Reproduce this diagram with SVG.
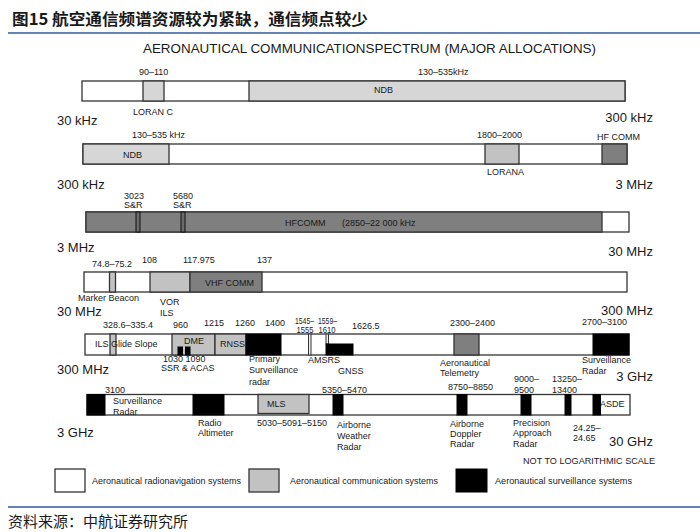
<svg xmlns="http://www.w3.org/2000/svg" width="700" height="532" viewBox="0 0 700 532">
<style>
text{font-family:"Liberation Sans",Arial,sans-serif;fill:#1a1a1a}
.s{font-size:9px}
.b{font-size:13px}
.r{text-anchor:end}
.bar{fill:#fff;stroke:#333;stroke-width:1.3}
.lg{fill:#d6d6d6;stroke:#333;stroke-width:1.3}
.mg{fill:#c2c2c2;stroke:#333;stroke-width:1.3}
.dg{fill:#7f7f7f;stroke:#333;stroke-width:1.3}
.bk{fill:#000;stroke:#000;stroke-width:1}
.cjk{font-family:"Noto Sans CJK SC",sans-serif}
</style>
<rect width="700" height="532" fill="#fff"/>
<g id="header">
<text class="cjk" x="12" y="25" font-size="16" font-weight="bold" textLength="356" lengthAdjust="spacingAndGlyphs">图15 航空通信频谱资源较为紧缺，通信频点较少</text>
<line x1="8" y1="33" x2="700" y2="33" stroke="#2e5c9e" stroke-width="1.6"/>
<text x="143" y="53" font-size="13" textLength="453" lengthAdjust="spacingAndGlyphs">AERONAUTICAL COMMUNICATIONSPECTRUM (MAJOR ALLOCATIONS)</text>
</g>
<g id="row1">
<rect class="bar" x="82" y="81" width="543" height="20"/>
<rect class="lg" x="143" y="81" width="21" height="20"/>
<rect class="lg" x="249" y="81" width="376" height="20"/>
<text class="s" x="139" y="75">90–110</text>
<text class="s" x="133" y="115">LORAN C</text>
<text class="s" x="374" y="93">NDB</text>
<text class="s" x="418" y="75">130–535kHz</text>
<text class="b" x="57" y="125">30 kHz</text>
<text class="b r" x="653" y="122">300 kHz</text>
</g>
<g id="row2">
<rect class="bar" x="83" y="144" width="544" height="20"/>
<rect class="lg" x="83" y="144" width="86" height="20"/>
<rect class="mg" x="485" y="144" width="34" height="20"/>
<rect class="dg" x="602" y="144" width="25" height="20"/>
<text class="s" x="132" y="138">130–535 kHz</text>
<text class="s" x="123" y="158">NDB</text>
<text class="s" x="477" y="138">1800–2000</text>
<text class="s" x="597" y="140">HF COMM</text>
<text class="s" x="487" y="175">LORANA</text>
<text class="b" x="57" y="189">300 kHz</text>
<text class="b r" x="653" y="189">3 MHz</text>
</g>
<g id="row3">
<rect class="bar" x="86" y="212" width="543" height="20"/>
<rect class="dg" x="86" y="212" width="516" height="20"/>
<rect x="136" y="212" width="4" height="20" fill="#6a6a6a" stroke="#111" stroke-width="1"/>
<rect x="181" y="212" width="4" height="20" fill="#6a6a6a" stroke="#111" stroke-width="1"/>
<text class="s" x="124" y="199">3023</text>
<text class="s" x="124" y="208">S&amp;R</text>
<text class="s" x="173" y="199">5680</text>
<text class="s" x="173" y="208">S&amp;R</text>
<text class="s" x="285" y="226">HFCOMM</text>
<text class="s" x="342" y="226">(2850–22 000 kHz</text>
<text class="b" x="57" y="252">3 MHz</text>
<text class="b r" x="653" y="256">30 MHz</text>
</g>
<g id="row4">
<rect class="bar" x="84" y="272" width="543" height="20"/>
<rect class="mg" x="109.5" y="272" width="6" height="20"/>
<rect class="mg" x="150" y="272" width="40" height="20"/>
<rect class="dg" x="190" y="272" width="72" height="20"/>
<text class="s" x="92" y="267">74.8–75.2</text>
<text class="s" x="142" y="263">108</text>
<text class="s" x="183" y="263">117.975</text>
<text class="s" x="257" y="263">137</text>
<text class="s" x="205" y="286">VHF COMM</text>
<text class="s" x="78" y="301">Marker Beacon</text>
<text class="s" x="160" y="305">VOR</text>
<text class="s" x="160" y="316">ILS</text>
<text class="b" x="57" y="316">30 MHz</text>
<text class="b r" x="653" y="315">300 MHz</text>
</g>
<g id="row5">
<rect class="bar" x="85" y="334" width="544" height="21"/>
<rect class="mg" x="110" y="334" width="6" height="21"/>
<rect class="mg" x="172" y="334" width="43" height="21"/>
<rect class="mg" x="215" y="334" width="31" height="21"/>
<rect class="bk" x="178" y="347" width="4.5" height="8"/>
<rect class="bk" x="185.5" y="347" width="4.5" height="8"/>
<rect class="bk" x="246" y="334" width="35" height="21"/>
<rect x="308.5" y="334" width="2.5" height="21" fill="#eee" stroke="#333" stroke-width="1"/>
<rect x="326" y="334" width="2.5" height="10" fill="#eee" stroke="#333" stroke-width="1"/>
<rect class="bk" x="326" y="344" width="27" height="11"/>
<rect class="dg" x="454" y="334" width="25" height="21"/>
<rect class="bk" x="593" y="334" width="36" height="21"/>
<text class="s" x="95" y="347">ILS Glide Slope</text>
<text class="s" x="184" y="344">DME</text>
<text class="s" x="220" y="347">RNSS</text>
<text class="s" x="103" y="328">328.6–335.4</text>
<text class="s" x="173" y="328">960</text>
<text class="s" x="204" y="326">1215</text>
<text class="s" x="235" y="326">1260</text>
<text class="s" x="265" y="326">1400</text>
<text class="s" x="295" y="324" textLength="19" lengthAdjust="spacingAndGlyphs">1545–</text>
<text class="s" x="296.5" y="333" textLength="17" lengthAdjust="spacingAndGlyphs">1555</text>
<text class="s" x="318" y="324" textLength="19" lengthAdjust="spacingAndGlyphs">1559–</text>
<text class="s" x="318.5" y="333" textLength="17" lengthAdjust="spacingAndGlyphs">1610</text>
<text class="s" x="352" y="329">1626.5</text>
<text class="s" x="450" y="326">2300–2400</text>
<text class="s" x="582" y="325">2700–3100</text>
<text class="s" x="163" y="362">1030 1090</text>
<text class="s" x="161" y="371">SSR &amp; ACAS</text>
<text class="s" x="249" y="362">Primary</text>
<text class="s" x="249" y="373">Surveillance</text>
<text class="s" x="249" y="385">radar</text>
<text class="s" x="308" y="363">AMSRS</text>
<text class="s" x="338" y="374">GNSS</text>
<text class="s" x="440" y="366">Aeronautical</text>
<text class="s" x="440" y="376">Telemetry</text>
<text class="s" x="582" y="363">Surveillance</text>
<text class="s" x="582" y="374">Radar</text>
<text class="b" x="57" y="374">300 MHz</text>
<text class="b r" x="653" y="381">3 GHz</text>
</g>
<g id="row6">
<rect class="bar" x="87" y="394.5" width="543" height="20.5"/>
<rect class="bk" x="87" y="394.5" width="18" height="20.5"/>
<rect class="bk" x="193" y="394.5" width="31" height="20.5"/>
<rect class="mg" x="258" y="394.5" width="51" height="19"/>
<rect class="bk" x="333" y="394.5" width="10" height="20.5"/>
<rect class="bk" x="457" y="394.5" width="10" height="20.5"/>
<rect class="bk" x="521" y="394.5" width="10" height="20.5"/>
<rect class="bk" x="565" y="394.5" width="6" height="20.5"/>
<rect class="bk" x="593" y="394.5" width="7.5" height="20.5"/>
<text class="s" x="113" y="404">Surveillance</text>
<text class="s" x="113" y="415">Radar</text>
<text class="s" x="267" y="407">MLS</text>
<text class="s" x="600" y="407">ASDE</text>
<text class="s" x="105" y="393">3100</text>
<text class="s" x="322" y="393">5350–5470</text>
<text class="s" x="448" y="390">8750–8850</text>
<text class="s" x="514" y="382">9000–</text>
<text class="s" x="514" y="393">9500</text>
<text class="s" x="552" y="382">13250–</text>
<text class="s" x="552" y="393">13400</text>
<text class="s" x="198" y="426">Radio</text>
<text class="s" x="198" y="436">Altimeter</text>
<text class="s" x="257" y="426">5030–5091–5150</text>
<text class="s" x="337" y="428">Airborne</text>
<text class="s" x="337" y="439">Weather</text>
<text class="s" x="337" y="450">Radar</text>
<text class="s" x="450" y="427">Airborne</text>
<text class="s" x="450" y="437">Doppler</text>
<text class="s" x="450" y="447">Radar</text>
<text class="s" x="513" y="426">Precision</text>
<text class="s" x="513" y="436">Approach</text>
<text class="s" x="513" y="447">Radar</text>
<text class="s" x="573" y="431">24.25–</text>
<text class="s" x="573" y="441">24.65</text>
<text class="b" x="57" y="437">3 GHz</text>
<text class="b r" x="653" y="446">30 GHz</text>
<text class="s" x="523" y="464" textLength="132" lengthAdjust="spacingAndGlyphs">NOT TO LOGARITHMIC SCALE</text>
</g>
<g id="legend">
<rect class="bar" x="55" y="469" width="30" height="23"/>
<text class="s" x="92" y="484" textLength="149" lengthAdjust="spacingAndGlyphs">Aeronautical radionavigation systems</text>
<rect class="mg" x="249" y="469" width="30" height="23"/>
<text class="s" x="290" y="484" textLength="148" lengthAdjust="spacingAndGlyphs">Aeronautical communication systems</text>
<rect class="bk" x="456" y="469" width="31" height="23"/>
<text class="s" x="495" y="484" textLength="137" lengthAdjust="spacingAndGlyphs">Aeronautical surveillance systems</text>
</g>
<g id="footer">
<line x1="8" y1="507" x2="700" y2="507" stroke="#2e5c9e" stroke-width="1.6"/>
<text class="cjk" x="8" y="527" font-size="15">资料来源：中航证券研究所</text>
</g>
</svg>
